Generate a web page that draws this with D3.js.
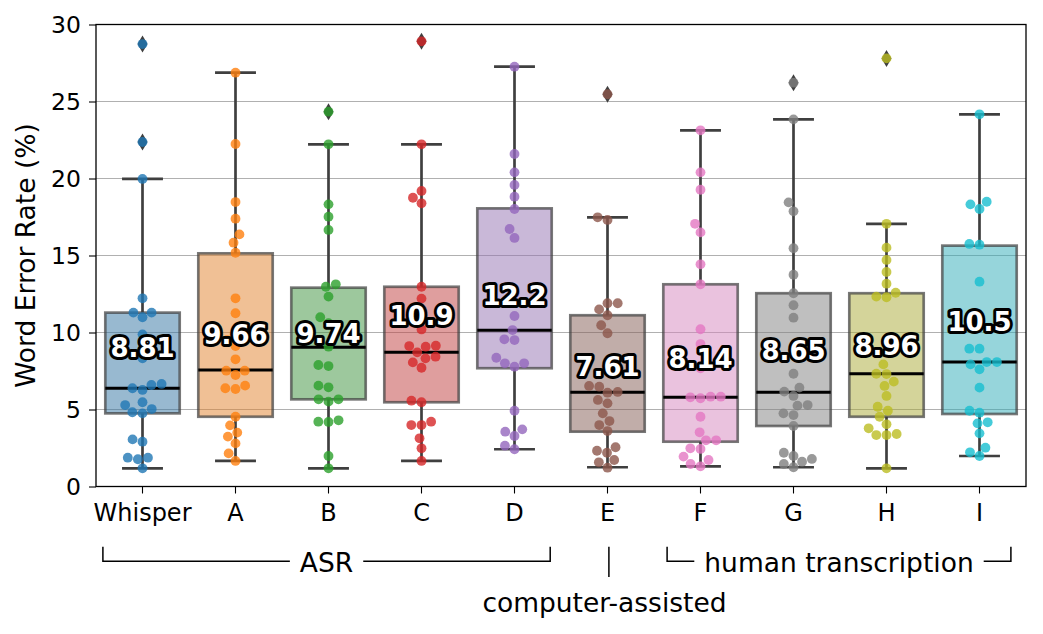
<!DOCTYPE html>
<html><head><meta charset="utf-8">
<script src="https://cdn.jsdelivr.net/npm/d3@7/dist/d3.min.js"></script>
<style>
body{margin:0;background:#fff}
text{font-family:"DejaVu Sans",sans-serif}
</style>
</head><body>
<svg id="chart" width="1043" height="634"></svg>
<script>
// ---------------- DATA ----------------
const categories = ["Whisper","A","B","C","D","E","F","G","H","I"];
const yTicks = [0,5,10,15,20,25,30];

const werWhisper = [28.73,22.37,19.97,12.22,11.29,10.99,11.29,9.88,8.32,6.66,6.59,6.38,6.27,5.47,5.29,5.03,4.82,4.75,3.06,2.91,1.87,1.87,1.77,1.18];
const werA = [26.87,22.24,18.47,17.39,16.37,15.83,15.18,12.22,11.25,9.5,9.12,8.26,7.52,7.52,7.24,6.55,6.38,6.33,4.53,3.97,3.5,3.24,2.8,2.15,1.66];
const werB = [24.34,22.22,18.32,17.52,16.66,13.13,12.97,12.33,10.99,10.6,9.08,7.89,7.82,6.55,6.44,5.66,5.66,5.51,4.3,4.21,4.19,1.98,1.18];
const werC = [28.91,22.22,19.19,18.75,18.39,12.97,12.2,10.2,9.14,9.12,9.08,8.71,8.43,8.32,8.06,7.71,5.57,5.47,4.21,3.99,3.99,3.13,2.48,1.66];
const werD = [27.26,21.59,20.4,19.58,18.82,18.02,16.72,16.14,12.55,11.07,10.16,9.56,9.51,8.36,8.0,8.0,7.78,4.92,3.71,3.56,3.28,2.65,2.42];
const werE = [25.47,17.48,17.31,11.9,11.9,11.5,11.12,10.47,9.95,6.53,6.48,6.14,6.09,5.62,5.4,4.75,4.25,3.99,3.6,2.55,2.32,2.19,1.72,1.57,1.22];
const werF = [23.13,20.4,19.27,17.06,16.5,14.43,13.13,10.21,9.25,7.68,5.83,5.79,5.73,5.83,4.53,3.52,3.0,3.0,2.48,2.44,1.94,1.72,1.46,1.31];
const werG = [26.22,23.84,18.45,17.87,15.47,13.75,12.55,11.77,10.96,7.32,6.42,6.16,5.88,5.29,5.25,4.75,4.64,3.93,2.19,1.98,1.79,1.61,1.46,1.25];
const werH = [27.8,17.06,15.51,14.71,13.93,13.17,12.58,12.33,12.29,7.93,7.32,7.3,6.81,6.53,5.88,5.18,4.92,4.53,4.04,3.78,3.41,3.34,3.34,1.18];
const werI = [24.17,18.49,18.32,18.02,15.75,15.7,13.3,8.95,8.95,8.08,8.08,7.93,7.61,6.42,4.92,4.79,4.17,4.1,3.45,2.52,2.22,1.98];
const seriesValues = [werWhisper,werA,werB,werC,werD,werE,werF,werG,werH,werI];

const boxQ1     = [4.75,4.53,5.66,5.47,7.68,3.56,2.91,3.93,4.53,4.71];
const boxMedian = [6.38,7.56,9.04,8.71,10.14,6.12,5.79,6.12,7.32,8.08];
const boxQ3     = [11.29,15.14,12.91,12.97,18.06,11.12,13.13,12.55,12.55,15.64];
const whiskerLow  = [1.18,1.66,1.18,1.66,2.42,1.25,1.31,1.25,1.18,1.98];
const whiskerHigh = [19.97,26.87,22.22,22.22,27.26,17.48,23.13,23.84,17.06,24.17];
const outliers = [[28.73,22.37],[],[24.34],[28.91],[],[25.47],[],[26.22],[27.8],[]];
const meanWER = [8.81,9.66,9.74,10.9,12.2,7.61,8.14,8.65,8.96,10.5];

const groupLabels = ["ASR","computer-assisted","human transcription"];
const groupMembers = [["Whisper","D"],["E","E"],["F","I"]];

const palette = ["#1f77b4","#ff7f0e","#2ca02c","#d62728","#9467bd","#8c564b","#e377c2","#7f7f7f","#bcbd22","#17becf"];

// ---------------- LAYOUT ----------------
const svg = d3.select("#chart");
const M = {left:96, right:1026, top:24.5, bottom:486.5};
const x = d3.scaleBand().domain(categories).range([M.left, M.right]).padding(0);
const y = d3.scaleLinear().domain([0,30]).range([M.bottom, M.top]);
const bw = x.bandwidth();
const cx = c => x(c) + bw/2;

function desat(c, p){ const h = d3.hsl(c); h.s *= p; return h.formatHex(); }
const gray = "#3f3f3f";

// grid
svg.append("g").selectAll("line").data(yTicks.filter(t=>t>0 && t<30)).join("line")
  .attr("x1",M.left).attr("x2",M.right).attr("y1",d=>y(d)).attr("y2",d=>y(d))
  .attr("stroke","#b0b0b0").attr("stroke-width",1.1);

const boxW = bw*0.8, capW = bw*0.44;
const g = svg.append("g");
categories.forEach((c,i)=>{
  const X = cx(c);
  g.append("line").attr("x1",X).attr("x2",X).attr("y1",y(boxQ3[i])).attr("y2",y(whiskerHigh[i]))
    .attr("stroke",gray).attr("stroke-width",2.7);
  g.append("line").attr("x1",X).attr("x2",X).attr("y1",y(boxQ1[i])).attr("y2",y(whiskerLow[i]))
    .attr("stroke",gray).attr("stroke-width",2.7);
  [whiskerHigh[i], whiskerLow[i]].forEach(v=>{
    g.append("line").attr("x1",X-capW/2).attr("x2",X+capW/2).attr("y1",y(v)).attr("y2",y(v))
      .attr("stroke",gray).attr("stroke-width",2.7);
  });
  g.append("rect").attr("x",X-boxW/2).attr("width",boxW)
    .attr("y",y(boxQ3[i])).attr("height",y(boxQ1[i])-y(boxQ3[i]))
    .attr("fill",desat(palette[i],0.75)).attr("fill-opacity",0.5)
    .attr("stroke",gray).attr("stroke-opacity",0.7).attr("stroke-width",2.7);
  g.append("line").attr("x1",X-boxW/2).attr("x2",X+boxW/2).attr("y1",y(boxMedian[i])).attr("y2",y(boxMedian[i]))
    .attr("stroke","#000").attr("stroke-width",3);
  outliers[i].forEach(v=>{
    const Y = y(v), hw = 5, hh = 8.5;
    g.append("path").attr("d",`M${X},${Y-hh}L${X+hw},${Y}L${X},${Y+hh}L${X-hw},${Y}Z`).attr("fill",gray);
  });
});

// swarm layout
function swarm(ys, r){
  const d = 2*r, order = ys.map((v,i)=>i).sort((a,b)=>ys[b]-ys[a]);
  const placed = [], off = new Array(ys.length);
  for(const i of order){
    const Y = ys[i];
    const near = placed.filter(p=>Math.abs(p.y-Y) < d);
    const cands = [0];
    near.forEach(p=>{ const dx = Math.sqrt(d*d-(p.y-Y)**2); cands.push(p.x+dx, p.x-dx); });
    cands.sort((a,b)=>Math.abs(a)-Math.abs(b) || a-b);
    let X = 0;
    for(const c of cands){ if(near.every(p=>(p.x-c)**2+(p.y-Y)**2 >= d*d-1e-6)){ X=c; break; } }
    placed.push({x:X,y:Y}); off[i]=X;
  }
  return off;
}
const ptR = 4.9;
categories.forEach((c,i)=>{
  const ys = seriesValues[i].map(v=>y(v));
  const off = swarm(ys, 5.1);
  svg.append("g").selectAll("circle").data(ys).join("circle")
    .attr("cx",(d,k)=>cx(c)+off[k]).attr("cy",d=>d).attr("r",ptR)
    .attr("fill",palette[i]).attr("fill-opacity",0.8);
});

// mean labels
const fmt = d3.format(".3");
svg.append("g").selectAll("text").data(meanWER).join("text")
  .attr("x",(d,i)=>cx(categories[i])).attr("y",d=>y(d)+6.5)
  .attr("text-anchor","middle").attr("font-size",26).attr("font-weight","bold")
  .attr("fill","#fff").attr("stroke","#000").attr("stroke-width",6).attr("stroke-linejoin","round")
  .attr("paint-order","stroke").text(d=>fmt(d));

// spines
svg.append("rect").attr("x",M.left).attr("y",M.top).attr("width",M.right-M.left).attr("height",M.bottom-M.top)
  .attr("fill","none").attr("stroke","#000").attr("stroke-width",1.3);

// axes
const yAxis = svg.append("g").attr("transform",`translate(${M.left},0)`)
  .call(d3.axisLeft(y).tickValues(yTicks).tickSize(7).tickPadding(8).tickFormat(d3.format("d")));
yAxis.select(".domain").remove();
yAxis.selectAll("text").attr("font-size",23.5).attr("font-family","DejaVu Sans").attr("fill","#000");
yAxis.selectAll("line").attr("stroke","#000").attr("stroke-width",1.1);

const xAxis = svg.append("g").attr("transform",`translate(0,${M.bottom})`)
  .call(d3.axisBottom(x).tickSize(7).tickPadding(10));
xAxis.select(".domain").remove();
xAxis.selectAll("text").attr("font-size",24).attr("font-family","DejaVu Sans").attr("fill","#000");
xAxis.selectAll("line").attr("stroke","#000").attr("stroke-width",1.1);

svg.append("text").attr("transform",`translate(35,${(M.top+M.bottom)/2}) rotate(-90)`)
  .attr("text-anchor","middle").attr("font-size",26.5).text("Word Error Rate (%)");

// group annotations
const ann = svg.append("g").attr("stroke","#000").attr("stroke-width",1.5).attr("fill","none");
const annFont = 26.5, brTop = 546.7, brY = 561.3, textY = 571.5;
function bracket(label, left, right){
  const mid = (left+right)/2;
  const t = svg.append("text").attr("x",mid).attr("y",textY).attr("text-anchor","middle")
    .attr("font-size",annFont).text(label);
  const w = t.node().getComputedTextLength();
  const gap = 10;
  ann.append("path").attr("d",`M${left},${brTop}V${brY}H${mid-w/2-gap}`);
  ann.append("path").attr("d",`M${mid+w/2+gap},${brY}H${right}V${brTop}`);
}
bracket(groupLabels[0], cx(groupMembers[0][0])-39.6, cx(groupMembers[0][1])+35.7);
bracket(groupLabels[2], cx(groupMembers[2][0])-33.4, cx(groupMembers[2][1])+31.4);
const eX = cx(groupMembers[1][0])+1.4;
ann.append("line").attr("x1",eX).attr("x2",eX).attr("y1",brTop).attr("y2",577);
svg.append("text").attr("x",604.5).attr("y",611.7).attr("text-anchor","middle")
  .attr("font-size",annFont).text(groupLabels[1]);
</script>
</body></html>
